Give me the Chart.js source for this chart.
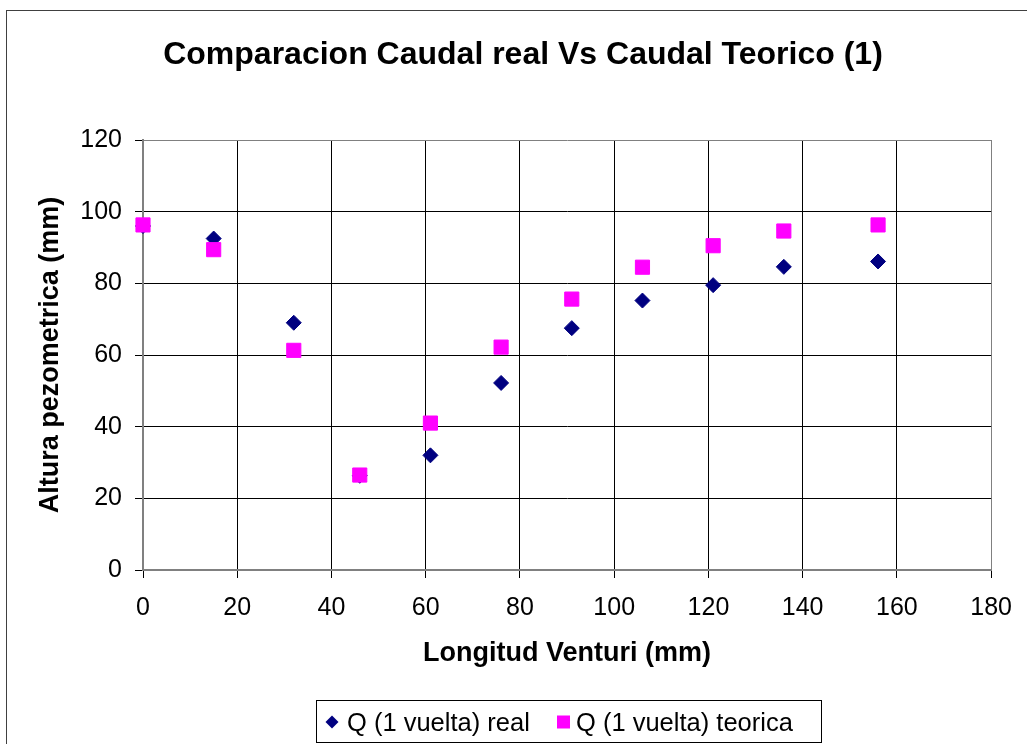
<!DOCTYPE html>
<html>
<head>
<meta charset="utf-8">
<script src="https://cdn.jsdelivr.net/npm/chart.js@4/dist/chart.umd.min.js"></script>
<style>
  html, body { margin: 0; padding: 0; background: #fff; }
  #grafico { display: block; }
</style>
</head>
<body>
<canvas id="grafico" width="1027" height="744"></canvas>
<script>
// === DATOS =================================================================
const longitud      = [0, 15, 32, 46, 61, 76, 91, 106, 121, 136, 156];
const alturaReal    = [96, 92.5, 69, 26.3, 32, 52.2, 67.5, 75.2, 79.5, 84.6, 86.1];
const alturaTeorica = [96.3, 89.4, 61.3, 26.5, 41, 62.2, 75.6, 84.5, 90.5, 94.6, 96.3];

const titulo      = 'Comparacion Caudal real Vs Caudal Teorico (1)';
const tituloX     = 'Longitud Venturi (mm)';
const tituloY     = 'Altura pezometrica (mm)';
const nombreReal  = 'Q (1 vuelta) real';
const nombreTeo   = 'Q (1 vuelta) teorica';

const FUENTE = '"Liberation Sans", Arial, sans-serif';

// === HELPERS ===============================================================
const aPuntos = (xs, ys) => xs.map((x, i) => ({ x, y: ys[i] }));

// borde del area de grafico en gris, rejilla interior en negro
const colorRejilla = (ultimo) => (ctx) =>
  ctx.index === ultimo ? '#808080' : '#000000';

// marco, titulo y leyenda al estilo Excel
const decoracion = {
  id: 'decoracion',
  afterDraw(chart) {
    const { ctx } = chart;
    ctx.save();
    // marco exterior (solo se ven izquierda y arriba)
    ctx.strokeStyle = '#404040';
    ctx.lineWidth = 1;
    ctx.strokeRect(6.5, 10.5, 1100, 800);

    // titulo
    ctx.fillStyle = '#000';
    ctx.font = 'bold 32px ' + FUENTE;
    ctx.textAlign = 'center';
    ctx.textBaseline = 'middle';
    ctx.fillText(titulo, 523, 55);

    // leyenda
    ctx.strokeStyle = '#000';
    ctx.strokeRect(316.5, 700.5, 505, 42);
    const dsR = chart.data.datasets[0];
    const dsT = chart.data.datasets[1];
    ctx.fillStyle = dsR.backgroundColor;
    ctx.beginPath();
    ctx.moveTo(332, 715.5); ctx.lineTo(338.5, 722); ctx.lineTo(332, 728.5); ctx.lineTo(325.5, 722);
    ctx.closePath(); ctx.fill();
    ctx.fillStyle = dsT.backgroundColor;
    ctx.fillRect(557, 715.5, 13, 13);

    ctx.fillStyle = '#000';
    ctx.font = '25.5px ' + FUENTE;
    ctx.textAlign = 'left';
    ctx.textBaseline = 'alphabetic';
    ctx.fillText(nombreReal, 347, 731);
    ctx.fillText(nombreTeo, 576, 731);
    ctx.restore();
  }
};

// === GRAFICO ===============================================================
const el = document.getElementById('grafico');

const grafico = new Chart(el, {
  type: 'scatter',
  data: {
    datasets: [{
      label: nombreReal,
      data: aPuntos(longitud, alturaReal),
      pointStyle: 'rectRot',
      pointRadius: 7.5,
      pointHoverRadius: 7.5,
      backgroundColor: '#000080',
      borderColor: '#000080',
      borderWidth: 1,
      clip: false,
      order: 2
    }, {
      label: nombreTeo,
      data: aPuntos(longitud, alturaTeorica),
      pointStyle: 'rect',
      pointRadius: 10,
      pointHoverRadius: 10,
      backgroundColor: '#FF00FF',
      borderColor: '#FF00FF',
      borderWidth: 1,
      clip: false,
      order: 1   // cuadrados por encima de los rombos
    }]
  },
  options: {
    responsive: false,
    animation: false,
    devicePixelRatio: 1,
    layout: { padding: { top: 140, right: 34, bottom: 64, left: 0 } },
    plugins: {
      legend: { display: false },
      title: { display: false },
      tooltip: { enabled: false }
    },
    scales: {
      x: {
        type: 'linear',
        min: 0, max: 180,
        afterFit: (s) => { s.height = 110; },
        ticks: {
          stepSize: 20,
          padding: 15,
          color: '#000',
          maxRotation: 0,
          font: { family: FUENTE, size: 25 }
        },
        grid: {
          color: colorRejilla(9),
          tickColor: '#000',
          tickLength: 8,
          lineWidth: 1
        },
        border: { color: '#808080', width: 2 },
        title: {
          display: true,
          text: tituloX,
          color: '#000',
          padding: { top: 0, bottom: 10 },
          font: { family: FUENTE, size: 27, weight: 'bold' }
        }
      },
      y: {
        type: 'linear',
        min: 0, max: 120,
        afterFit: (s) => { s.width = 143; },
        ticks: {
          stepSize: 20,
          padding: 13,
          color: '#000',
          font: { family: FUENTE, size: 25 }
        },
        grid: {
          color: colorRejilla(6),
          tickColor: '#000',
          tickLength: 8,
          lineWidth: 1
        },
        border: { color: '#808080', width: 2 },
        title: {
          display: true,
          text: tituloY,
          color: '#000',
          padding: { top: 34, bottom: 0 },
          font: { family: FUENTE, size: 27, weight: 'bold' }
        }
      }
    }
  },
  plugins: [decoracion]
});
</script>
</body>
</html>
